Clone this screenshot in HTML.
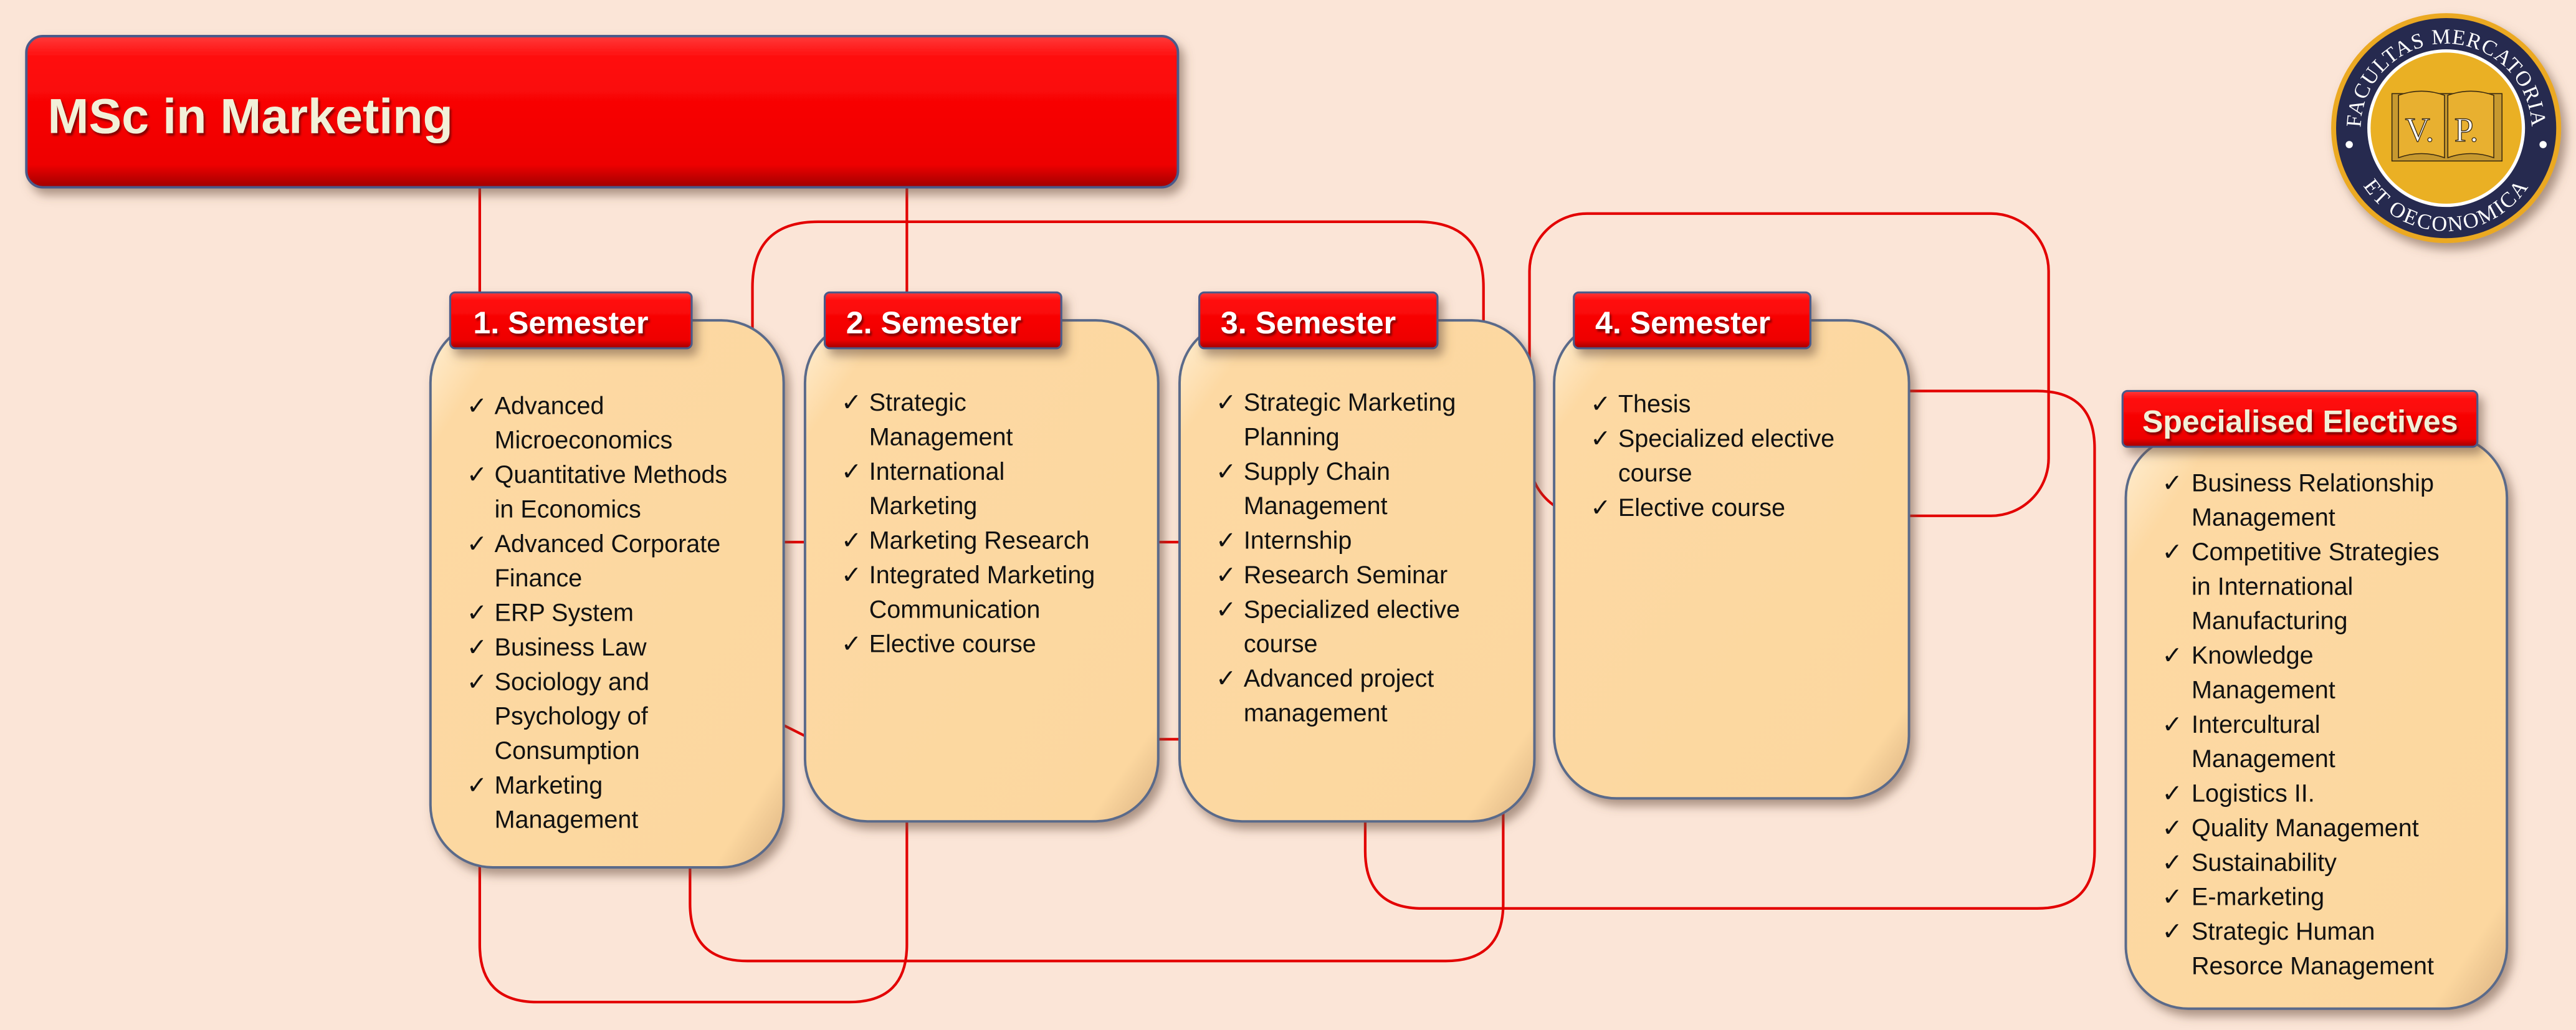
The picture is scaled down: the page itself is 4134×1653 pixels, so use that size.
<!DOCTYPE html>
<html><head><meta charset="utf-8"><style>
html,body{margin:0;padding:0;background:#fbe5d7;}
svg{display:block}
text{font-family:"Liberation Sans",sans-serif;}
</style></head><body>
<svg width="4134" height="1653" viewBox="0 0 1568 627" xmlns="http://www.w3.org/2000/svg">
<defs>
<linearGradient id="red" x1="0" y1="0" x2="0" y2="1">
<stop offset="0" stop-color="#ff3a3a"/><stop offset="0.15" stop-color="#ff0a0a"/><stop offset="0.85" stop-color="#ee0000"/><stop offset="1" stop-color="#a00000"/></linearGradient>
<linearGradient id="peach" x1="0" y1="0" x2="1" y2="1">
<stop offset="0" stop-color="#fff0d6"/><stop offset="0.12" stop-color="#fdd9a3"/><stop offset="0.9" stop-color="#fcd79f"/><stop offset="1" stop-color="#d8b080"/></linearGradient>
<filter id="sh" x="-10%" y="-10%" width="130%" height="130%"><feDropShadow dx="3" dy="4" stdDeviation="3" flood-color="#6b5040" flood-opacity="0.55"/></filter>
<filter id="ts"><feDropShadow dx="1" dy="1.5" stdDeviation="0.6" flood-color="#600" flood-opacity="0.8"/></filter>
<path id="arcTop" d="M1440,96 A52,52 0 1 1 1538,96"/>
<path id="arcBot" d="M1431,96 A60,60 0 0 0 1547,96"/>
</defs>
<rect width="1568" height="627" fill="#fbe5d7"/>
<g fill="none" stroke="#e30000" stroke-width="1.6">
<line x1="292" y1="114" x2="292" y2="180"/>
<line x1="552" y1="114" x2="552" y2="180"/>
<path d="M458,200 V175 Q458,135 498,135 H863 Q903,135 903,175 V200"/>
<rect x="931" y="130" width="316" height="184" rx="35"/>
<path d="M1162,238 H1240 Q1275,238 1275,273 V518 Q1275,553 1240,553 H866 Q831,553 831,518 V495"/>
<path d="M292,525 V575 Q292,610 327,610 H517 Q552,610 552,575 V495"/>
<path d="M420,525 V550 Q420,585 455,585 H880 Q915,585 915,550 V495"/>
<line x1="474" y1="330" x2="494" y2="330"/>
<line x1="474" y1="440" x2="494" y2="450"/>
<line x1="702" y1="330" x2="722" y2="330"/>
<line x1="702" y1="450" x2="722" y2="450"/>
</g>
<rect x="16" y="22" width="701" height="92" rx="10" fill="url(#red)" stroke="#4a5a8a" stroke-width="1.5" filter="url(#sh)"/>
<text x="29" y="81" font-size="30" font-weight="bold" fill="#f2f0d8" filter="url(#ts)">MSc in Marketing</text>
<g stroke="#5a6a8a" stroke-width="1.5" fill="url(#peach)" filter="url(#sh)">
<rect x="262" y="195" width="215" height="333" rx="38"/>
<rect x="490" y="195" width="215" height="305" rx="38"/>
<rect x="718" y="195" width="216" height="305" rx="38"/>
<rect x="946" y="195" width="216" height="291" rx="38"/>
<rect x="1294" y="265" width="232" height="349" rx="38"/>
</g>
<g stroke="#4a5a8a" stroke-width="1.2" fill="url(#red)" filter="url(#sh)">
<rect x="274" y="178" width="147" height="34" rx="3"/>
<rect x="502" y="178" width="144" height="34" rx="3"/>
<rect x="730" y="178" width="145" height="34" rx="3"/>
<rect x="958" y="178" width="144" height="34" rx="3"/>
<rect x="1292" y="238" width="216" height="34" rx="3"/>
</g>
<g font-size="19" font-weight="bold" fill="#fff" filter="url(#ts)">
<text x="288" y="203">1. Semester</text>
<text x="515" y="203">2. Semester</text>
<text x="743" y="203">3. Semester</text>
<text x="971" y="203">4. Semester</text>
<text x="1304" y="263" fill="#f2f0d8">Specialised Electives</text>
</g>
<g font-size="15" fill="#111">
<g transform="translate(284,252)">
<text x="0" y="0">✓</text><text x="17" y="0">Advanced</text>
<text x="17" y="21">Microeconomics</text>
<text x="0" y="42">✓</text><text x="17" y="42">Quantitative Methods</text>
<text x="17" y="63">in Economics</text>
<text x="0" y="84">✓</text><text x="17" y="84">Advanced Corporate</text>
<text x="17" y="105">Finance</text>
<text x="0" y="126">✓</text><text x="17" y="126">ERP System</text>
<text x="0" y="147">✓</text><text x="17" y="147">Business Law</text>
<text x="0" y="168">✓</text><text x="17" y="168">Sociology and</text>
<text x="17" y="189">Psychology of</text>
<text x="17" y="210">Consumption</text>
<text x="0" y="231">✓</text><text x="17" y="231">Marketing</text>
<text x="17" y="252">Management</text>
</g>
<g transform="translate(512,250)">
<text x="0" y="0">✓</text><text x="17" y="0">Strategic</text>
<text x="17" y="21">Management</text>
<text x="0" y="42">✓</text><text x="17" y="42">International</text>
<text x="17" y="63">Marketing</text>
<text x="0" y="84">✓</text><text x="17" y="84">Marketing Research</text>
<text x="0" y="105">✓</text><text x="17" y="105">Integrated Marketing</text>
<text x="17" y="126">Communication</text>
<text x="0" y="147">✓</text><text x="17" y="147">Elective course</text>
</g>
<g transform="translate(740,250)">
<text x="0" y="0">✓</text><text x="17" y="0">Strategic Marketing</text>
<text x="17" y="21">Planning</text>
<text x="0" y="42">✓</text><text x="17" y="42">Supply Chain</text>
<text x="17" y="63">Management</text>
<text x="0" y="84">✓</text><text x="17" y="84">Internship</text>
<text x="0" y="105">✓</text><text x="17" y="105">Research Seminar</text>
<text x="0" y="126">✓</text><text x="17" y="126">Specialized elective</text>
<text x="17" y="147">course</text>
<text x="0" y="168">✓</text><text x="17" y="168">Advanced project</text>
<text x="17" y="189">management</text>
</g>
<g transform="translate(968,251)">
<text x="0" y="0">✓</text><text x="17" y="0">Thesis</text>
<text x="0" y="21">✓</text><text x="17" y="21">Specialized elective</text>
<text x="17" y="42">course</text>
<text x="0" y="63">✓</text><text x="17" y="63">Elective course</text>
</g>
<g transform="translate(1316,299)">
<text x="0" y="0">✓</text><text x="18" y="0">Business Relationship</text>
<text x="18" y="21">Management</text>
<text x="0" y="42">✓</text><text x="18" y="42">Competitive Strategies</text>
<text x="18" y="63">in International</text>
<text x="18" y="84">Manufacturing</text>
<text x="0" y="105">✓</text><text x="18" y="105">Knowledge</text>
<text x="18" y="126">Management</text>
<text x="0" y="147">✓</text><text x="18" y="147">Intercultural</text>
<text x="18" y="168">Management</text>
<text x="0" y="189">✓</text><text x="18" y="189">Logistics II.</text>
<text x="0" y="210">✓</text><text x="18" y="210">Quality Management</text>
<text x="0" y="231">✓</text><text x="18" y="231">Sustainability</text>
<text x="0" y="252">✓</text><text x="18" y="252">E-marketing</text>
<text x="0" y="273">✓</text><text x="18" y="273">Strategic Human</text>
<text x="18" y="294">Resorce Management</text>
</g>
</g>
<g filter="url(#sh)">
<circle cx="1489" cy="78" r="70" fill="#eba922"/>
<circle cx="1489" cy="78" r="67" fill="#262a4f"/>
</g>
<circle cx="1489" cy="78" r="48" fill="#fff"/>
<circle cx="1489" cy="78" r="46" fill="#eab024"/>
<g fill="#c7992f" stroke="#3a2a10" stroke-width="0.6">
<rect x="1456" y="57" width="67" height="41"/>
<path d="M1460,58 Q1474,53 1488,58 V96 Q1474,91 1460,96 Z" fill="#e8b030"/>
<path d="M1490,58 Q1504,53 1518,58 V96 Q1504,91 1490,96 Z" fill="#e8b030"/>
</g>
<text x="1464" y="86" font-size="21" fill="#fff" stroke="#3a2a10" stroke-width="0.5" style="font-family:'Liberation Serif',serif">V.</text>
<text x="1494" y="86" font-size="21" fill="#fff" stroke="#3a2a10" stroke-width="0.5" style="font-family:'Liberation Serif',serif">P.</text>
<text font-size="13" fill="#fff" letter-spacing="0.5" style="font-family:'Liberation Serif',serif"><textPath href="#arcTop" startOffset="50%" text-anchor="middle">FACULTAS MERCATORIA</textPath></text>
<text font-size="13" fill="#fff" letter-spacing="1" style="font-family:'Liberation Serif',serif"><textPath href="#arcBot" startOffset="50%" text-anchor="middle">ET OECONOMICA</textPath></text>
<circle cx="1430" cy="88" r="2.2" fill="#fff"/>
<circle cx="1548" cy="88" r="2.2" fill="#fff"/>
</svg>
</body></html>
